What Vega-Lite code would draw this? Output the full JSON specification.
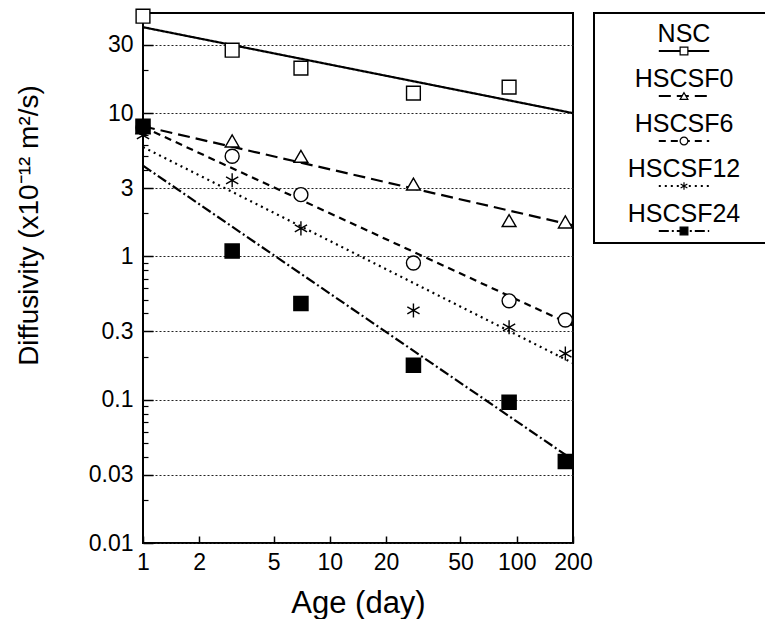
{
  "$schema": "https://vega.github.io/schema/vega-lite/v6.json",
  "background": "white",
  "padding": {"left": 13, "top": 5, "right": 0, "bottom": 0},
  "bounds": "flush",
  "spacing": 21,
  "config": {
    "view": {"stroke": "black", "strokeWidth": 2},
    "font": "Liberation Sans",
    "axis": {"labelColor": "black", "titleColor": "black", "titleFontWeight": "normal", "labelFontSize": 23, "labelFlush": false, "labelOverlap": false}
  },
  "datasets": {
    "lines": [
      {"series": "NSC", "age": 1, "d": 39.8},
      {"series": "NSC", "age": 200, "d": 10},
      {"series": "HSCSF0", "age": 1, "d": 8.1},
      {"series": "HSCSF0", "age": 200, "d": 1.65},
      {"series": "HSCSF6", "age": 1, "d": 8.0},
      {"series": "HSCSF6", "age": 200, "d": 0.33},
      {"series": "HSCSF12", "age": 1, "d": 5.8},
      {"series": "HSCSF12", "age": 200, "d": 0.18},
      {"series": "HSCSF24", "age": 1, "d": 4.3},
      {"series": "HSCSF24", "age": 200, "d": 0.038}
    ],
    "points": [
      {"series": "NSC", "age": 1, "d": 47.5},
      {"series": "NSC", "age": 3, "d": 27.5},
      {"series": "NSC", "age": 7, "d": 20.6},
      {"series": "NSC", "age": 28, "d": 13.8},
      {"series": "NSC", "age": 91, "d": 15.2},
      {"series": "HSCSF0", "age": 1, "d": 7.9},
      {"series": "HSCSF0", "age": 3, "d": 6.4},
      {"series": "HSCSF0", "age": 7, "d": 5.0},
      {"series": "HSCSF0", "age": 28, "d": 3.2},
      {"series": "HSCSF0", "age": 91, "d": 1.78},
      {"series": "HSCSF0", "age": 182, "d": 1.74},
      {"series": "HSCSF6", "age": 1, "d": 7.9},
      {"series": "HSCSF6", "age": 3, "d": 5.0},
      {"series": "HSCSF6", "age": 7, "d": 2.7},
      {"series": "HSCSF6", "age": 28, "d": 0.9},
      {"series": "HSCSF6", "age": 91, "d": 0.49},
      {"series": "HSCSF6", "age": 182, "d": 0.36},
      {"series": "HSCSF12", "age": 1, "d": 7.0},
      {"series": "HSCSF12", "age": 3, "d": 3.4},
      {"series": "HSCSF12", "age": 7, "d": 1.57},
      {"series": "HSCSF12", "age": 28, "d": 0.42},
      {"series": "HSCSF12", "age": 91, "d": 0.32},
      {"series": "HSCSF12", "age": 182, "d": 0.21},
      {"series": "HSCSF24", "age": 1, "d": 8.1},
      {"series": "HSCSF24", "age": 3, "d": 1.09},
      {"series": "HSCSF24", "age": 7, "d": 0.47},
      {"series": "HSCSF24", "age": 28, "d": 0.174},
      {"series": "HSCSF24", "age": 91, "d": 0.096},
      {"series": "HSCSF24", "age": 182, "d": 0.037}
    ],
    "legend": [
      {"series": "NSC"},
      {"series": "HSCSF0"},
      {"series": "HSCSF6"},
      {"series": "HSCSF12"},
      {"series": "HSCSF24"}
    ]
  },
  "hconcat": [
    {
      "width": 430,
      "height": 530,
      "layer": [
        {
          "data": {"name": "lines"},
          "mark": {"type": "line", "color": "black"},
          "encoding": {
            "x": {"field": "age", "type": "quantitative",
              "scale": {"type": "log", "domain": [1, 200], "nice": false},
              "axis": {"values": [1, 2, 5, 10, 20, 50, 100, 200], "format": "~g", "tickSize": -7, "tickColor": "black", "tickWidth": 1.5, "labelPadding": 15, "grid": false, "domain": false, "title": "Age (day)", "titleFontSize": 31, "titlePadding": 14}},
            "y": {"field": "d", "type": "quantitative",
              "scale": {"type": "log", "domain": [0.01, 50], "nice": false},
              "axis": {"values": [0.01, 0.03, 0.1, 0.3, 1, 3, 10, 30], "format": "~g", "tickSize": -10, "tickColor": "black", "tickWidth": 1.5, "labelPadding": 20, "grid": true, "gridDash": [2, 2], "gridColor": "#222", "gridWidth": 1, "domain": false, "title": "Diffusivity (x10⁻¹² m²/s)", "titleFontSize": 28, "titleX": -114, "titleY": 212, "titleAngle": -90, "titleAlign": "center", "titleBaseline": "middle"}},
            "detail": {"field": "series"},
            "strokeDash": {"field": "series", "type": "nominal", "legend": null,
              "scale": {"domain": ["NSC", "HSCSF0", "HSCSF6", "HSCSF12", "HSCSF24"], "range": [[1, 0], [12, 6], [7, 5], [2, 4], [10, 3, 2, 3]]}},
            "strokeWidth": {"field": "series", "type": "nominal", "legend": null,
              "scale": {"domain": ["NSC", "HSCSF0", "HSCSF6", "HSCSF12", "HSCSF24"], "range": [2.2, 2.2, 2.2, 1.6, 1.6]}}
          }
        },
        {
          "data": {"name": "points"},
          "mark": {"type": "point", "stroke": "black", "strokeWidth": 1.4, "opacity": 1, "fillOpacity": 1},
          "encoding": {
            "x": {"field": "age", "type": "quantitative"},
            "y": {"field": "d", "type": "quantitative",
              "axis": {"orient": "left", "values": [0.02, 0.04, 0.05, 0.06, 0.07, 0.08, 0.09, 0.2, 0.4, 0.5, 0.6, 0.7, 0.8, 0.9, 2, 4, 5, 6, 7, 8, 9, 20, 40], "labels": false, "tickSize": -5, "tickColor": "black", "tickWidth": 1.2, "domain": false, "grid": false, "title": null}},
            "shape": {"field": "series", "type": "nominal", "legend": null,
              "scale": {"domain": ["NSC", "HSCSF0", "HSCSF6", "HSCSF12", "HSCSF24"], "range": ["square", "triangle-up", "circle", "M0,-1L0,1M-0.87,-0.5L0.87,0.5M-0.87,0.5L0.87,-0.5", "square"]}},
            "fill": {"field": "series", "type": "nominal", "legend": null,
              "scale": {"domain": ["NSC", "HSCSF0", "HSCSF6", "HSCSF12", "HSCSF24"], "range": ["white", "white", "white", "white", "black"]}},
            "size": {"field": "series", "type": "nominal", "legend": null,
              "scale": {"domain": ["NSC", "HSCSF0", "HSCSF6", "HSCSF12", "HSCSF24"], "range": [190, 200, 160, 170, 120]}}
          }
        }
      ],
      "resolve": {"axis": {"y": "independent"}}
    },
    {
      "width": 180,
      "height": 230,
      "data": {"name": "legend"},
      "layer": [
        {
          "mark": {"type": "rule", "color": "black"},
          "encoding": {
            "x": {"datum": 0.36, "type": "quantitative", "scale": {"domain": [0, 1]}, "axis": null},
            "x2": {"datum": 0.64},
            "y": {"field": "series", "type": "nominal", "axis": null,
              "scale": {"type": "point", "domain": ["NSC", "HSCSF0", "HSCSF6", "HSCSF12", "HSCSF24"], "range": [38, 218], "padding": 0}},
            "strokeDash": {"field": "series", "type": "nominal", "legend": null},
            "strokeWidth": {"field": "series", "type": "nominal", "legend": null}
          }
        },
        {
          "mark": {"type": "point", "stroke": "black", "strokeWidth": 1.2, "opacity": 1, "fillOpacity": 1, "size": 60},
          "encoding": {
            "x": {"datum": 0.5, "type": "quantitative"},
            "y": {"field": "series", "type": "nominal"},
            "shape": {"field": "series", "type": "nominal", "legend": null},
            "fill": {"field": "series", "type": "nominal", "legend": null}
          }
        },
        {
          "mark": {"type": "text", "dy": -17, "fontSize": 25, "color": "black", "font": "Liberation Sans"},
          "encoding": {
            "x": {"datum": 0.5, "type": "quantitative"},
            "y": {"field": "series", "type": "nominal"},
            "text": {"field": "series"}
          }
        }
      ]
    }
  ]
}
